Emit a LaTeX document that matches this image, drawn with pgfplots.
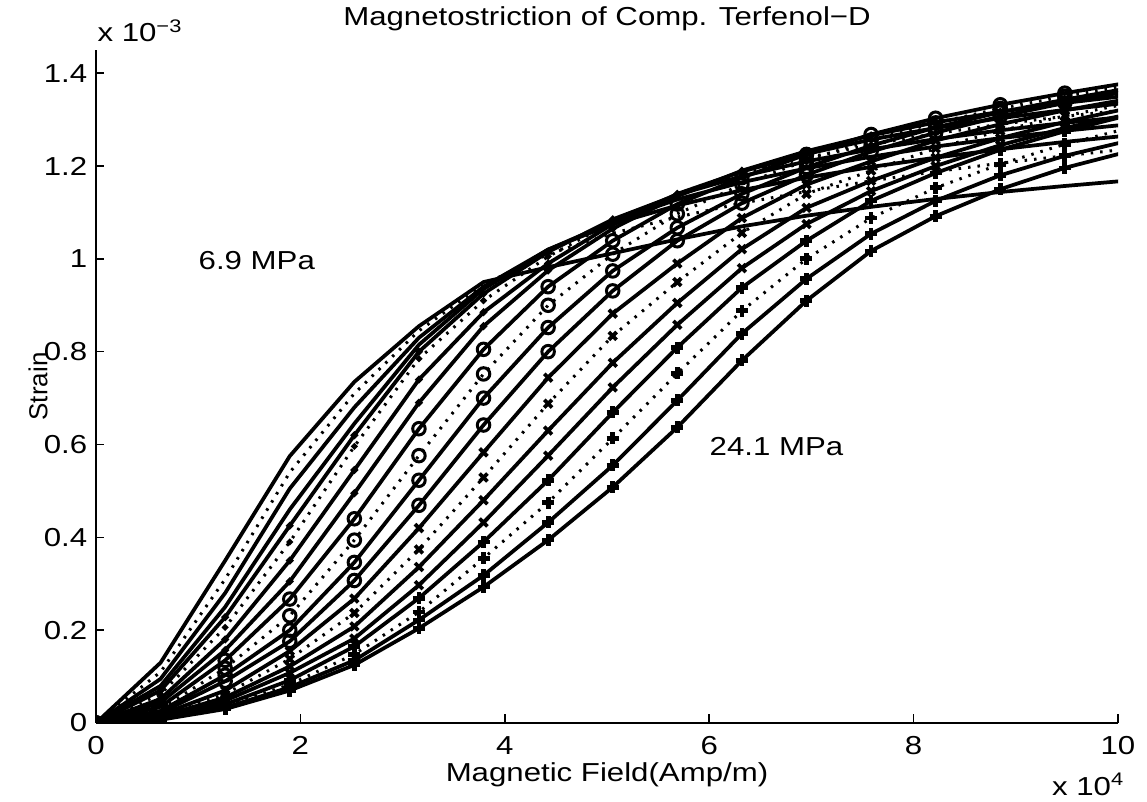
\documentclass[border=0pt]{standalone}
\usepackage{fontspec}
\setmainfont{Liberation Sans}[FakeStretch=1.2]
\newfontfamily\plainsans{Liberation Sans}
\usepackage{pgfplots}
\usepackage{pgfplotstable}
\pgfplotsset{compat=1.18}
\newcommand\fs{\fontsize{10.4pt}{12pt}\selectfont}

% strain (x 1e-3) vs field (x 1e4 A/m); c = no marker, d = dot, o, x (xa..xd), + (pa..pd)
\pgfplotstableread{
H      c1    c2    c3    c4    d1    d2    d3    d4    o1    o2    o3    o4    xa    xb    xc    xd    pa    pb    pc    pd
0      0     0     0     0     0     0     0     0     0     0     0     0     0     0     0     0     0     0     0     0
0.632  0.130 0.110 0.095 0.080 0.070 0.062 0.052 0.044 0.035 0.030 0.026 0.022 0.018 0.016 0.014 0.012 0.010 0.009 0.008 0.007
1.264  0.350 0.310 0.280 0.250 0.228 0.206 0.180 0.157 0.135 0.118 0.103 0.090 0.070 0.062 0.055 0.048 0.040 0.036 0.033 0.030
1.896  0.575 0.540 0.505 0.460 0.425 0.390 0.350 0.305 0.267 0.231 0.200 0.176 0.155 0.138 0.122 0.108 0.092 0.083 0.077 0.070
2.528  0.735 0.710 0.680 0.645 0.620 0.596 0.545 0.495 0.440 0.394 0.346 0.307 0.268 0.237 0.208 0.182 0.165 0.148 0.135 0.125
3.160  0.855 0.845 0.830 0.815 0.800 0.785 0.740 0.690 0.634 0.576 0.523 0.469 0.420 0.374 0.336 0.297 0.269 0.239 0.222 0.204
3.792  0.950 0.945 0.940 0.935 0.925 0.910 0.885 0.855 0.805 0.752 0.700 0.642 0.583 0.529 0.480 0.432 0.390 0.355 0.318 0.293
4.424  0.982 1.010 1.020 1.020 1.015 1.005 0.990 0.975 0.940 0.900 0.852 0.800 0.744 0.688 0.630 0.576 0.523 0.475 0.432 0.394
5.056  1.012 1.055 1.075 1.080 1.085 1.080 1.075 1.065 1.039 1.010 0.974 0.931 0.882 0.834 0.776 0.723 0.669 0.613 0.555 0.508
5.688  1.042 1.090 1.115 1.128 1.138 1.140 1.140 1.135 1.118 1.097 1.067 1.039 0.990 0.950 0.905 0.858 0.809 0.753 0.695 0.637
6.320  1.070 1.120 1.148 1.165 1.178 1.183 1.188 1.190 1.175 1.160 1.140 1.120 1.088 1.056 1.021 0.980 0.938 0.888 0.839 0.781
6.952  1.093 1.145 1.175 1.195 1.210 1.218 1.226 1.232 1.225 1.212 1.197 1.181 1.160 1.140 1.110 1.075 1.039 1.000 0.957 0.910
7.584  1.112 1.168 1.198 1.220 1.236 1.246 1.257 1.266 1.268 1.256 1.244 1.231 1.210 1.190 1.168 1.146 1.125 1.088 1.054 1.017
8.216  1.129 1.188 1.218 1.242 1.258 1.270 1.282 1.294 1.303 1.293 1.283 1.272 1.255 1.238 1.218 1.200 1.185 1.153 1.125 1.092
8.848  1.144 1.206 1.236 1.260 1.277 1.290 1.303 1.317 1.332 1.324 1.316 1.307 1.290 1.276 1.260 1.245 1.235 1.204 1.180 1.150
9.480  1.157 1.222 1.252 1.276 1.293 1.307 1.321 1.336 1.357 1.350 1.343 1.336 1.320 1.308 1.295 1.282 1.275 1.247 1.222 1.196
10.112 1.169 1.237 1.266 1.290 1.307 1.322 1.337 1.352 1.380 1.374 1.368 1.362 1.345 1.335 1.325 1.312 1.310 1.282 1.255 1.232
}\strain

\pgfplotsset{
  sol/.style={black, line width=1.5pt, solid},
  dot/.style={black, line width=1.2pt, dash pattern=on 1pt off 2.8pt},
  md/.style={mark=*, mark size=0.62pt, mark options={solid}},
  mo/.style={mark=o, mark size=2.5pt, mark options={solid, line width=1.2pt}},
  mx/.style={mark=x, mark size=2.2pt, mark options={solid, line width=1.5pt}},
  mp/.style={mark=+, mark size=2.4pt, mark options={solid, line width=1.9pt}},
}

\begin{document}
\begin{tikzpicture}
\begin{axis}[
  name=ax,
  scale only axis,
  width=408.8pt, height=269.2pt,
  xmin=0, xmax=10, ymin=0, ymax=1.45,
  axis x line*=bottom, axis y line*=left,
  axis line style={line width=0.6pt, black},
  xtick={0,2,4,6,8,10}, xticklabels={0,2,4,6,8,10},
  ytick={0,0.2,0.4,0.6,0.8,1,1.2,1.4},
  yticklabels={0,0.2,0.4,0.6,0.8,1,1.2,1.4},
  tick align=inside, major tick length=3.4pt,
  tick style={line width=0.6pt, black},
  tick label style={font=\fs},
  xticklabel style={yshift=-2pt},
  clip mode=individual, clip marker paths=true,
  title={Magnetostriction of Comp. Terfenol−D},
  title style={font=\fs, at={(axis description cs:0.5,1.0140)}, anchor=base, inner sep=0pt},
  xlabel={Magnetic Field(Amp/m)},
  xlabel style={font=\fs, at={(axis description cs:0.5,-0.0862)}, anchor=base, inner sep=0pt},
  ylabel={\fontsize{10.4pt}{12pt}\selectfont\plainsans Strain},
  ylabel style={at={(axis description cs:-0.0475,0.5)}, anchor=base, inner sep=0pt},
]
\addplot[sol] table[x=H, y=c1] {\strain};
\addplot[dot] table[x=H, y=c2] {\strain};
\addplot[sol] table[x=H, y=c3] {\strain};
\addplot[sol] table[x=H, y=c4] {\strain};
\addplot[sol, md] table[x=H, y=d1] {\strain};
\addplot[dot, md] table[x=H, y=d2] {\strain};
\addplot[sol, md] table[x=H, y=d3] {\strain};
\addplot[sol, md] table[x=H, y=d4] {\strain};
\addplot[sol, mo] table[x=H, y=o1] {\strain};
\addplot[dot, mo] table[x=H, y=o2] {\strain};
\addplot[sol, mo] table[x=H, y=o3] {\strain};
\addplot[sol, mo] table[x=H, y=o4] {\strain};
\addplot[sol, mx] table[x=H, y=xa] {\strain};
\addplot[dot, mx] table[x=H, y=xb] {\strain};
\addplot[sol, mx] table[x=H, y=xc] {\strain};
\addplot[sol, mx] table[x=H, y=xd] {\strain};
\addplot[sol, mp] table[x=H, y=pa] {\strain};
\addplot[dot, mp] table[x=H, y=pb] {\strain};
\addplot[sol, mp] table[x=H, y=pc] {\strain};
\addplot[sol, mp] table[x=H, y=pd] {\strain};

\node[font=\fs, anchor=west, inner sep=0pt] at (axis cs:1.0,0.996) {6.9 MPa};
\node[font=\fs, anchor=west, inner sep=0pt] at (axis cs:6.0,0.596) {24.1 MPa};
\node[font=\fs, anchor=base west, inner sep=0pt] at (axis description cs:0.001,1.0119) {x 10\textsuperscript{−3}};
\node[font=\fs, anchor=base east, inner sep=0pt] at (axis description cs:1.0068,-0.107) {x 10\textsuperscript{4}};
\end{axis}
\pgfresetboundingbox
\useasboundingbox ([xshift=-38.4pt,yshift=-31.6pt]ax.south west) rectangle ([xshift=420.4pt,yshift=289.2pt]ax.south west);
\end{tikzpicture}
\end{document}
